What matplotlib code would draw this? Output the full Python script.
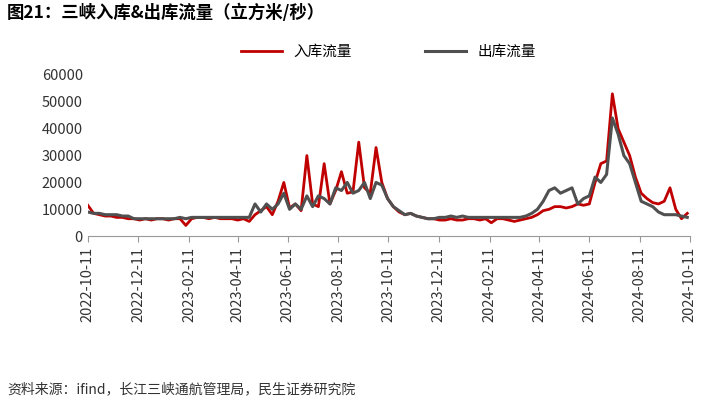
import numpy as np
import pandas as pd
import matplotlib.pyplot as plt
import matplotlib.dates as mdates

plt.rcParams['font.family'] = ['Noto Sans CJK SC', 'DejaVu Sans']

# weekly readings from 2022-10-11
inflow = [11500, 8500, 8000, 7500, 7500, 7000, 7000, 6500, 6500, 6000, 6500, 6000,
          6500, 6500, 6000, 6500, 6500, 4000, 6500, 7000, 7000, 6500, 7000, 6500, 6500,
          6500, 6000, 6500, 5500, 8000, 9500, 11000, 8000, 13000, 20000, 10500, 12000, 9500,
          30000, 12000, 11000, 27000, 12000, 17000, 24000, 16000, 16500, 35000, 18000, 16000, 33000,
          20000, 14000, 11000, 9000, 8000, 8500, 7500, 7000, 6500, 6500, 6000, 6000, 6500,
          6000, 6000, 6500, 6500, 6000, 6500, 5000, 6500, 6500, 6000, 5500, 6000, 6500,
          7000, 8000, 9500, 10000, 11000, 11000, 10500, 11000, 12000, 11500, 12000, 20000, 27000,
          28000, 53000, 40000, 35000, 30000, 22000, 16000, 14000, 12500, 12000, 13000, 18000, 10000,
          6500, 8500]
outflow = [9000, 8500, 8500, 8000, 8000, 8000, 7500, 7500, 6500, 6500, 6500, 6500,
           6500, 6500, 6500, 6500, 7000, 6500, 7000, 7000, 7000, 7000, 7000, 7000, 7000,
           7000, 7000, 7000, 7000, 12000, 9000, 12000, 10000, 12000, 16000, 10000, 12000, 10000,
           15000, 11000, 15000, 14000, 12000, 18000, 17000, 20000, 16000, 17000, 20000, 14000, 20000,
           19000, 14000, 11000, 9500, 8000, 8500, 7500, 7000, 6500, 6500, 7000, 7000, 7500,
           7000, 7500, 7000, 7000, 7000, 7000, 7000, 7000, 7000, 7000, 7000, 7000, 7500,
           8500, 10000, 13000, 17000, 18000, 16000, 17000, 18000, 12000, 14000, 15000, 22000, 20000,
           23000, 44000, 38000, 30000, 27000, 20000, 13000, 12000, 11000, 9000, 8000, 8000, 8000,
           7500, 7000]
d_in = pd.date_range('2022-10-11', periods=len(inflow), freq='7D')
d_out = pd.date_range('2022-10-11', periods=len(outflow), freq='7D')
tick_dates = pd.date_range('2022-10-01', '2024-10-01', freq='2MS') + pd.Timedelta(days=10)

fig = plt.figure(figsize=(7.2, 4.01), dpi=100)
ax = fig.add_axes([0.122, 0.411, 0.836, 0.402])
ax.plot(d_in, inflow, color='#C00000', lw=2, label='入库流量')
ax.plot(d_out, outflow, color='#505050', lw=2.2, label='出库流量')
ax.set_ylim(0, 60000)
ax.set_yticks(range(0, 60001, 10000))
ax.set_xlim(pd.Timestamp('2022-10-11'), pd.Timestamp('2024-10-11'))
ax.set_xticks(tick_dates)
ax.xaxis.set_major_formatter(mdates.DateFormatter('%Y-%m-%d'))
plt.setp(ax.get_xticklabels(), rotation=90)
ax.tick_params(labelsize=10.5, colors='#333333', length=0)
ax.tick_params(axis='x', length=4, color='#999999')
for s in ['top', 'right', 'left']:
    ax.spines[s].set_visible(False)
ax.spines['bottom'].set_color('#999999')
ax.legend(loc='lower center', bbox_to_anchor=(0.5, 1.02), ncol=2, frameon=False,
          fontsize=10.5, handlelength=2.8, columnspacing=5)

fig.text(0.01, 0.955, '图21：三峡入库&出库流量（立方米/秒）', fontsize=12.5, fontweight='bold')
fig.text(0.01, 0.02, '资料来源：ifind，长江三峡通航管理局，民生证券研究院', fontsize=10, color='#333333')
fig.savefig('out.png', dpi=100)
